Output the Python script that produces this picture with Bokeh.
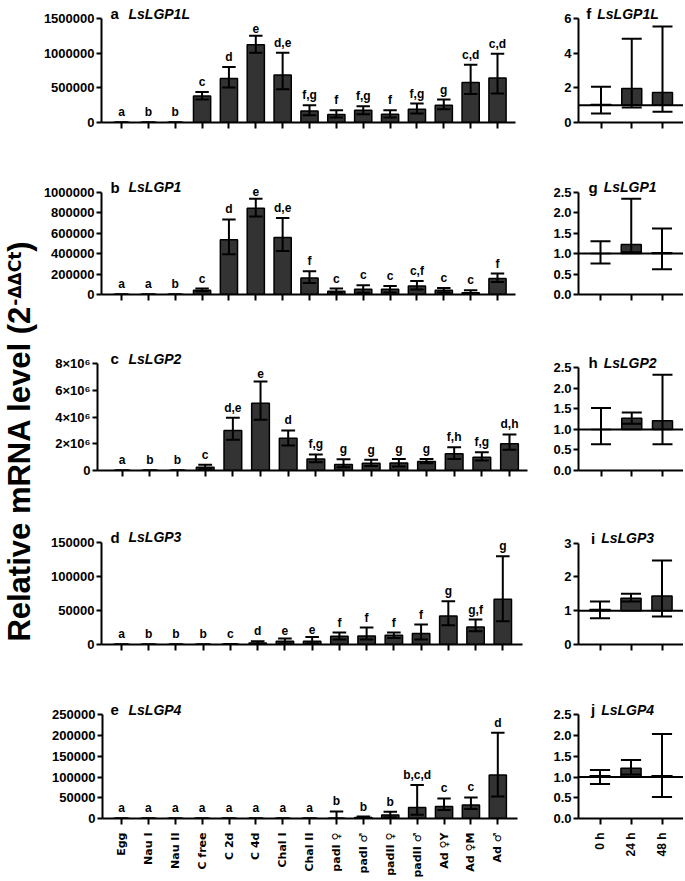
import math
from bokeh.plotting import figure
from bokeh.layouts import row, column
from bokeh.models import Range1d, FixedTicker, Span
from bokeh.core.properties import value
from bokeh.embed import file_html
from bokeh.resources import INLINE

FONT = "Liberation Sans"
FONT_SYM = "DejaVu Sans"

# ---------------- data ----------------
stages = ["Egg", "Nau I", "Nau II", "C free", "C 2d", "C 4d", "Chal I", "Chal II",
          "padI ♀", "padI ♂", "padII ♀", "padII ♂", "Ad ♀Y", "Ad ♀M", "Ad ♂"]
times = ["0 h", "24 h", "48 h"]

genes_left = ["LsLGP1L", "LsLGP1", "LsLGP2", "LsLGP3", "LsLGP4"]
panel_left = ["a", "b", "c", "d", "e"]
panel_right = ["f", "g", "h", "i", "j"]

# LsLGP1L (stages)
p1l_mean = [1, 30, 60, 383000, 635000, 1125000, 686000, 167000, 115000, 177000, 120000, 192000, 250000, 577000, 643000]
p1l_lo = [0, 0, 0, 331000, 505000, 1010000, 480000, 105000, 72000, 120000, 72000, 130000, 192000, 412000, 418000]
p1l_hi = [2, 60, 120, 441000, 802000, 1255000, 1010000, 250000, 177000, 235000, 177000, 274000, 332000, 836000, 995000]
p1l_sig = ["a", "b", "b", "c", "d", "e", "d,e", "f,g", "f", "f,g", "f", "f,g", "g", "c,d", "c,d"]

# LsLGP1 (stages)
p1_mean = [1, 50, 300, 42000, 536000, 844000, 556000, 162000, 32000, 52000, 52000, 84000, 42000, 16000, 156000]
p1_lo = [0, 0, 0, 32000, 393000, 763000, 425000, 113000, 16000, 16000, 19000, 49000, 19000, 0, 123000]
p1_hi = [2, 100, 600, 58000, 734000, 936000, 747000, 227000, 58000, 90000, 84000, 133000, 64000, 42000, 205000]
p1_sig = ["a", "a", "b", "c", "d", "e", "d,e", "f", "c", "c", "c", "c,f", "c", "c", "f"]

# LsLGP2 (stages)
p2_mean = [1, 200, 500, 250000, 3000000, 5050000, 2420000, 870000, 450000, 550000, 570000, 680000, 1250000, 1000000, 2000000]
p2_lo = [0, 0, 0, 100000, 2300000, 3800000, 1880000, 620000, 250000, 330000, 300000, 550000, 870000, 750000, 1550000]
p2_hi = [2, 400, 1000, 440000, 3950000, 6680000, 3000000, 1200000, 850000, 800000, 870000, 870000, 1750000, 1370000, 2700000]
p2_sig = ["a", "b", "b", "c", "d,e", "e", "d", "f,g", "g", "g", "g", "g", "f,h", "f,g", "d,h"]

# LsLGP3 (stages)
p3_mean = [1, 5, 8, 10, 400, 2300, 4800, 4800, 12100, 12600, 13600, 16100, 41800, 25700, 66200]
p3_lo = [0, 0, 0, 0, 200, 1000, 1500, 1500, 7300, 7300, 9700, 7300, 28200, 19400, 34000]
p3_hi = [2, 10, 16, 20, 800, 4800, 8800, 11000, 17500, 24900, 17500, 29200, 63300, 36500, 129500]
p3_sig = ["a", "b", "b", "b", "c", "d", "e", "e", "f", "f", "f", "f", "g", "g,f", "g"]

# LsLGP4 (stages)
p4_mean = [1, 2, 3, 2, 3, 4, 5, 6, 600, 2500, 8200, 26600, 29000, 32400, 105000]
p4_lo = [0, 0, 0, 0, 0, 0, 0, 0, 0, 500, 2400, 8900, 20300, 22700, 53200]
p4_hi = [2, 4, 6, 4, 6, 8, 10, 12, 17000, 4800, 16200, 80800, 48400, 50800, 206500]
p4_sig = ["a", "a", "a", "a", "a", "a", "a", "a", "b", "b", "b", "b,c,d", "c", "c", "d"]

# time course (0 h, 24 h, 48 h)
t1l_mean = [1.04, 1.97, 1.74]
t1l_lo = [0.52, 0.87, 0.62]
t1l_hi = [2.07, 4.84, 5.55]
t1_mean = [1.00, 1.22, 1.02]
t1_lo = [0.755, 1.03, 0.62]
t1_hi = [1.30, 2.34, 1.61]
t2_mean = [1.00, 1.27, 1.21]
t2_lo = [0.64, 1.14, 0.64]
t2_hi = [1.52, 1.41, 2.33]
t3_mean = [1.04, 1.37, 1.44]
t3_lo = [0.78, 1.27, 0.83]
t3_hi = [1.27, 1.50, 2.49]
t4_mean = [1.03, 1.21, 1.03]
t4_lo = [0.83, 1.06, 0.52]
t4_hi = [1.17, 1.41, 2.04]

# y ticks
yt_p1l = [0, 500000, 1000000, 1500000]
yl_p1l = ["0", "500000", "1000000", "1500000"]
yt_p1 = [0, 200000, 400000, 600000, 800000, 1000000]
yl_p1 = ["0", "200000", "400000", "600000", "800000", "1000000"]
yt_p2 = [0, 2000000, 4000000, 6000000, 8000000]
yl_p2 = ["0", "2×10⁶", "4×10⁶", "6×10⁶", "8×10⁶"]
yt_p3 = [0, 50000, 100000, 150000]
yl_p3 = ["0", "50000", "100000", "150000"]
yt_p4 = [0, 50000, 100000, 150000, 200000, 250000]
yl_p4 = ["0", "50000", "100000", "150000", "200000", "250000"]
yt_t1l = [0, 2, 4, 6]
yl_t1l = ["0", "2", "4", "6"]
yt_t25 = [0, 0.5, 1.0, 1.5, 2.0, 2.5]
yl_t25 = ["0.0", "0.5", "1.0", "1.5", "2.0", "2.5"]
yt_t3 = [0, 1, 2, 3]
yl_t3 = ["0", "1", "2", "3"]

y_label_main = "Relative mRNA level (2"
y_label_sup = "-ΔΔCt"
y_label_close = ")"

left_sets = [
    (p1l_mean, p1l_lo, p1l_hi, p1l_sig, yt_p1l, yl_p1l),
    (p1_mean, p1_lo, p1_hi, p1_sig, yt_p1, yl_p1),
    (p2_mean, p2_lo, p2_hi, p2_sig, yt_p2, yl_p2),
    (p3_mean, p3_lo, p3_hi, p3_sig, yt_p3, yl_p3),
    (p4_mean, p4_lo, p4_hi, p4_sig, yt_p4, yl_p4),
]
right_sets = [
    (t1l_mean, t1l_lo, t1l_hi, yt_t1l, yl_t1l),
    (t1_mean, t1_lo, t1_hi, yt_t25, yl_t25),
    (t2_mean, t2_lo, t2_hi, yt_t25, yl_t25),
    (t3_mean, t3_lo, t3_hi, yt_t3, yl_t3),
    (t4_mean, t4_lo, t4_hi, yt_t25, yl_t25),
]

# ---------------- layout (page pixels) ----------------
LABEL_X0, LABEL_X1 = 0, 40
SPLIT_X = 545
RIGHT_END = 683
PAGE_BOTTOM = 881

# (frame_top, zero_line, figure_bottom)
row_geo = [(0, 122, 170), (170, 294, 343), (343, 470, 520), (520, 644, 692), (692, 818, 881)]
# left: axis_x, end_x, first_tick_x, last_tick_x, top_tick_y
left_geo = [(101, 515, 121, 497, 18.3), (101, 515, 121, 497, 191.7), (97, 527, 121.7, 509, 363.3),
            (101, 521.7, 121, 502.3, 541.7), (102, 517, 121, 497.3, 714.3)]
# right: axis_x, first_tick_x, last_tick_x, top_tick_y
right_geo = [(578, 600.5, 662, 18.3), (578, 600, 661.5, 191.7), (578, 600.5, 662, 367.3),
             (578, 599.5, 661.5, 542.7), (578, 599.5, 661.5, 714.3)]
RIGHT_TITLE_CENTRE = 622

BAR_FILL = "#333333"
LETTER_FS, GENE_FS = 15, 14


def base_fig(width, height, mbl, mbr, mbb, xr, yr):
    p = figure(width=width, height=height, output_backend="svg", toolbar_location=None,
               x_range=xr, y_range=yr, min_border_left=mbl, min_border_right=mbr,
               min_border_top=0, min_border_bottom=mbb, title=None)
    p.xgrid.visible = False
    p.ygrid.visible = False
    p.outline_line_color = None
    p.background_fill_color = "white"
    p.border_fill_color = "white"
    return p


def style_axis(ax, standoff, font=FONT, size="13px"):
    ax.axis_line_width = 2
    ax.axis_line_color = "black"
    ax.major_tick_line_width = 2
    ax.major_tick_line_color = "black"
    ax.major_tick_out = 5
    ax.major_tick_in = 0
    ax.minor_tick_line_color = None
    ax.major_label_text_font = font
    ax.major_label_text_font_size = size
    ax.major_label_text_font_style = "bold"
    ax.major_label_text_color = "black"
    ax.major_label_standoff = standoff


rows_out = []
for k in range(5):
    ftop, zero, fbot = row_geo[k]
    height = fbot - ftop
    mbb = fbot - zero
    frame_h = zero - ftop
    last_row = (k == 4)

    # ---------- left panel ----------
    mean, lo, hi, sig, yt, yl = left_sets[k]
    ax_x, end_x, t0, t1, top_y = left_geo[k]
    mbl = round(ax_x - LABEL_X1)
    mbr = round(SPLIT_X - end_x)
    width = SPLIT_X - LABEL_X1
    frame_w = width - mbl - mbr
    n = len(stages)
    scale = (t1 - t0) / (n - 1)
    axis_px = LABEL_X1 + mbl
    xs0 = -(t0 - axis_px) / scale
    top_val = yt[-1]
    axis_h = zero - top_y
    y_end = top_val * frame_h / axis_h
    p = base_fig(width, height, mbl, mbr, mbb, Range1d(xs0, xs0 + frame_w / scale), Range1d(0, y_end))
    xs = list(range(n))
    p.vbar(x=xs, top=mean, bottom=0, width=0.64, fill_color=BAR_FILL, line_color="black", line_width=1.5)
    p.segment(x0=xs, y0=lo, x1=xs, y1=hi, line_color="black", line_width=2)
    cw = 0.5
    p.segment(x0=[x - cw / 2 for x in xs], y0=hi, x1=[x + cw / 2 for x in xs], y1=hi, line_color="black", line_width=2)
    p.segment(x0=[x - cw / 2 for x in xs], y0=lo, x1=[x + cw / 2 for x in xs], y1=lo, line_color="black", line_width=2)
    p.text(x=xs, y=hi, text=sig, text_align="center", text_baseline="bottom", y_offset=-3,
           text_font=value(FONT), text_font_size="12px", text_font_style="bold", text_color="black")
    # panel title
    p.text(x=[xs0 + (110 - axis_px) / scale], y=[top_val], text=[panel_left[k]], y_offset=-5,
           text_align="left", text_baseline="alphabetic", text_font=value(FONT),
           text_font_size=f"{LETTER_FS}px", text_font_style="bold", text_color="black")
    p.text(x=[xs0 + (128 - axis_px) / scale], y=[top_val], text=[genes_left[k]], y_offset=-5,
           text_align="left", text_baseline="alphabetic", text_font=value(FONT),
           text_font_size=f"{GENE_FS}px", text_font_style="bold italic", text_color="black")
    style_axis(p.yaxis[0], 2)
    p.yaxis[0].ticker = FixedTicker(ticks=yt)
    p.yaxis[0].major_label_overrides = {t: l for t, l in zip(yt, yl)}
    p.yaxis[0].bounds = (0, top_val)
    style_axis(p.xaxis[0], 8, FONT_SYM, "11px")
    p.xaxis[0].major_tick_out = 6
    p.xaxis[0].ticker = FixedTicker(ticks=xs)
    if last_row:
        p.xaxis[0].major_label_overrides = {i: s for i, s in enumerate(stages)}
        p.xaxis[0].major_label_orientation = math.pi / 2
    else:
        p.xaxis[0].major_label_overrides = {i: "" for i in xs}
    left_fig = p

    # ---------- right panel ----------
    mean, lo, hi, yt, yl = right_sets[k]
    ax_x, t0, t1, top_y = right_geo[k]
    width = RIGHT_END - SPLIT_X
    mbl = round(ax_x - SPLIT_X)
    frame_w = width - mbl
    m = len(times)
    scale = (t1 - t0) / (m - 1)
    axis_px = SPLIT_X + mbl
    xs0 = -(t0 - axis_px) / scale
    top_val = yt[-1]
    axis_h = zero - top_y
    y_end = top_val * frame_h / axis_h
    q = base_fig(width, height, mbl, 0, mbb, Range1d(xs0, xs0 + frame_w / scale), Range1d(0, y_end))
    xs = list(range(m))
    q.vbar(x=xs, top=mean, bottom=1.0, width=0.65, fill_color=BAR_FILL, line_color="black", line_width=1.5)
    q.add_layout(Span(location=1.0, dimension="width", line_color="black", line_width=2))
    q.segment(x0=xs, y0=lo, x1=xs, y1=hi, line_color="black", line_width=2)
    cw = 0.65
    q.segment(x0=[x - cw / 2 for x in xs], y0=hi, x1=[x + cw / 2 for x in xs], y1=hi, line_color="black", line_width=2)
    q.segment(x0=[x - cw / 2 for x in xs], y0=lo, x1=[x + cw / 2 for x in xs], y1=lo, line_color="black", line_width=2)
    # centred title
    lw = {"f": 333, "g": 611, "h": 611, "i": 278, "j": 278}[panel_right[k]] * LETTER_FS / 1000
    gw = (4390 if genes_left[k].endswith("L") else 3779) * GENE_FS / 1000
    gap = 6
    start_px = RIGHT_TITLE_CENTRE - (lw + gap + gw) / 2
    q.text(x=[xs0 + (start_px - axis_px) / scale], y=[top_val], text=[panel_right[k]], y_offset=-5,
           text_align="left", text_baseline="alphabetic", text_font=value(FONT),
           text_font_size=f"{LETTER_FS}px", text_font_style="bold", text_color="black")
    q.text(x=[xs0 + (start_px + lw + gap - axis_px) / scale], y=[top_val], text=[genes_left[k]], y_offset=-5,
           text_align="left", text_baseline="alphabetic", text_font=value(FONT),
           text_font_size=f"{GENE_FS}px", text_font_style="bold italic", text_color="black")
    style_axis(q.yaxis[0], 2)
    q.yaxis[0].ticker = FixedTicker(ticks=yt)
    q.yaxis[0].major_label_overrides = {t: l for t, l in zip(yt, yl)}
    q.yaxis[0].bounds = (0, top_val)
    style_axis(q.xaxis[0], 8, FONT, "12px")
    q.xaxis[0].major_tick_out = 6
    q.xaxis[0].ticker = FixedTicker(ticks=xs)
    if last_row:
        q.xaxis[0].major_label_overrides = {i: s for i, s in enumerate(times)}
        q.xaxis[0].major_label_orientation = math.pi / 2
    else:
        q.xaxis[0].major_label_overrides = {i: "" for i in xs}

    rows_out.append(row(left_fig, q, spacing=0))

# ---------------- shared y-axis title ----------------
total_h = PAGE_BOTTOM
lab = figure(width=LABEL_X1 - LABEL_X0, height=total_h, output_backend="svg", toolbar_location=None,
             x_range=Range1d(LABEL_X0, LABEL_X1), y_range=Range1d(0, total_h),
             x_axis_location=None, y_axis_location=None, min_border=0, title=None)
lab.xgrid.visible = False
lab.ygrid.visible = False
lab.outline_line_color = None
MAIN_FS, SUP_FS = 31, 17
main_len = 10837 * MAIN_FS / 1000          # Liberation Sans Bold advance widths
sup_len = 3175 * SUP_FS / 1000             # DejaVu Sans Bold advance widths
close_len = 333 * MAIN_FS / 1000
centre_page_y = 441
start_page_y = centre_page_y + (main_len + sup_len + close_len) / 2
y0 = PAGE_BOTTOM - start_page_y
main_base_x = 30
main_mid_x = main_base_x - 0.3465 * MAIN_FS
sup_mid_x = (main_base_x - 10) - 0.3465 * SUP_FS
lab.text(x=[main_mid_x], y=[y0], text=[y_label_main], angle=math.pi / 2, text_align="left",
         text_baseline="middle", text_font=value(FONT), text_font_size=f"{MAIN_FS}px",
         text_font_style="bold", text_color="black")
lab.text(x=[sup_mid_x], y=[y0 + main_len], text=[y_label_sup], angle=math.pi / 2, text_align="left",
         text_baseline="middle", text_font=value("DejaVu Sans"), text_font_size=f"{SUP_FS}px",
         text_font_style="bold", text_color="black")
lab.text(x=[main_mid_x], y=[y0 + main_len + sup_len], text=[y_label_close], angle=math.pi / 2, text_align="left",
         text_baseline="middle", text_font=value(FONT), text_font_size=f"{MAIN_FS}px",
         text_font_style="bold", text_color="black")

layout = row(lab, column(*rows_out, spacing=0), spacing=0)
open("out.html", "w").write(file_html(layout, INLINE))
